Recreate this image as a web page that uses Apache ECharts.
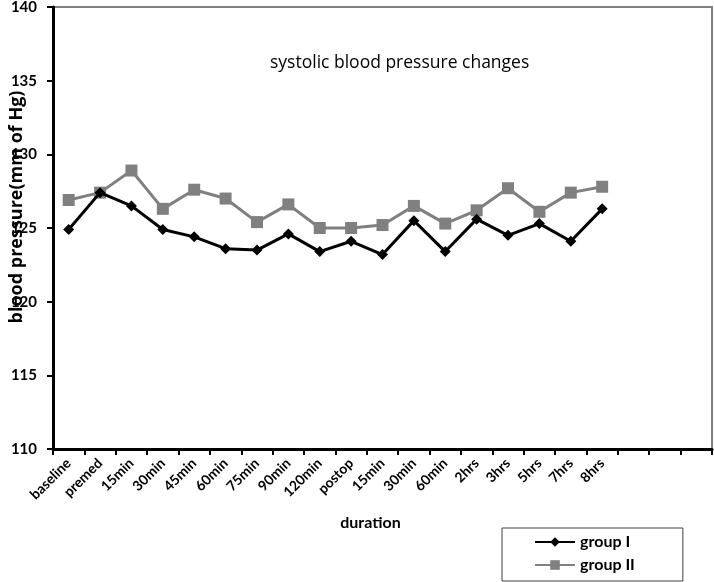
<!DOCTYPE html>
<html>
<head>
<meta charset="utf-8">
<script src="https://cdn.jsdelivr.net/npm/echarts@6/dist/echarts.min.js"></script>
<style>html,body{margin:0;padding:0;background:#fff;}#c{width:714px;height:582px;}</style>
</head>
<body>
<div id="c"></div>
<script>
var categories = ['baseline','premed','15min','30min','45min','60min','75min','90min','120min','postop','15min','30min','60min','2hrs','3hrs','5hrs','7hrs','8hrs','','',''];
var groupI  = [124.9,127.4,126.5,124.9,124.4,123.6,123.5,124.6,123.4,124.1,123.2,125.5,123.4,125.6,124.5,125.3,124.1,126.3];
var groupII = [126.9,127.4,128.9,126.3,127.6,127.0,125.4,126.6,125.0,125.0,125.2,126.5,125.3,126.2,127.7,126.1,127.4,127.8];
var yTicks = {min:110, max:140, interval:5};
var yAxisName = 'blood pressure(mm of Hg)';

var FONT = 'Lato';
var chart = echarts.init(document.getElementById('c'), null, {renderer:'canvas'});
chart.setOption({
  animation:false,
  backgroundColor:'#fff',
  title:{
    text:'systolic blood pressure changes',
    left:265, top:49,
    textStyle:{fontFamily:'Open Sans', fontSize:17.5, fontWeight:'normal', color:'#000'}
  },
  legend:{
    orient:'vertical',
    left:502, top:528,
    padding:[6,48,8,32],
    itemGap:7,
    itemWidth:40, itemHeight:12,
    borderColor:'#404040', borderWidth:1,
    textStyle:{fontFamily:FONT, fontSize:16, fontWeight:'bold', color:'#000'},
    data:['group I','group II']
  },
  graphic:[{
    type:'text',
    x:17, y:207,
    rotation:Math.PI/2,
    style:{text:yAxisName, font:'bold 18px "Open Sans"', fill:'#000', align:'center', verticalAlign:'middle'}
  }],
  grid:{left:53, right:2, top:7, bottom:133, show:true, borderColor:'#808080', borderWidth:2, containLabel:false, outerBoundsMode:'none'},
  xAxis:{
    type:'category',
    data:categories,
    boundaryGap:true,
    name:'duration',
    nameLocation:'middle',
    nameGap:66,
    nameTextStyle:{fontFamily:FONT, fontSize:16, fontWeight:'bold', color:'#000', padding:[0,24,0,0]},
    axisLine:{lineStyle:{color:'#000', width:3}},
    axisTick:{show:true, interval:0, length:6, lineStyle:{color:'#000', width:2}},
    axisLabel:{interval:0, rotate:45, margin:12, fontFamily:FONT, fontSize:14, fontWeight:'bold', color:'#000'},
    splitLine:{show:false}
  },
  yAxis:{
    type:'value',
    min:yTicks.min, max:yTicks.max, interval:yTicks.interval,
    axisLine:{show:true, lineStyle:{color:'#000', width:3}},
    axisTick:{show:true, length:6, lineStyle:{color:'#000', width:2}},
    axisLabel:{margin:16, fontFamily:FONT, fontSize:15, fontWeight:'bold', color:'#000'},
    splitLine:{show:false}
  },
  series:[
    {
      name:'group I', type:'line', data:groupI,
      symbol:'diamond', symbolSize:11,
      lineStyle:{color:'#000', width:3},
      itemStyle:{color:'#000'},
      z:3
    },
    {
      name:'group II', type:'line', data:groupII,
      symbol:'rect', symbolSize:12,
      lineStyle:{color:'#808080', width:3},
      itemStyle:{color:'#808080'},
      z:2
    }
  ]
});
</script>
</body>
</html>
